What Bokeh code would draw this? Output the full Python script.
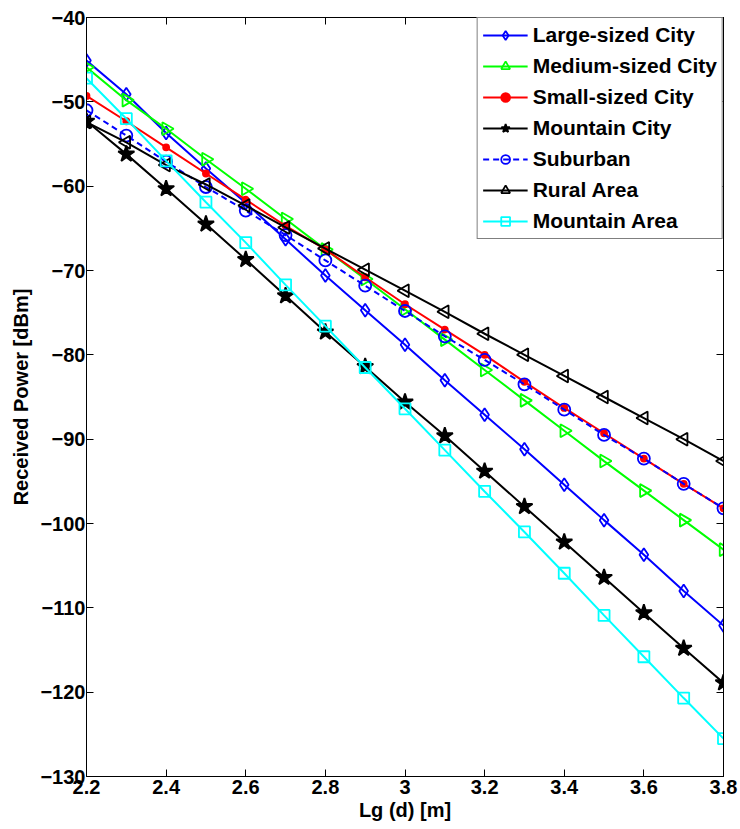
import numpy as np
from bokeh.plotting import figure
from bokeh.models import (Range1d, FixedTicker, LinearAxis, Legend, LegendItem,
                          CustomLabelingPolicy)
from bokeh.embed import file_html
from bokeh.resources import INLINE

x = [2.2, 2.3, 2.4, 2.5, 2.6, 2.7, 2.8, 2.9, 3.0, 3.1, 3.2, 3.3, 3.4, 3.5, 3.6, 3.7, 3.8]

large_city = [-45.1, -49.1, -53.7, -57.9, -62.0, -66.3, -70.6, -74.7, -78.8, -83.0,
              -87.1, -91.2, -95.4, -99.6, -103.7, -108.0, -112.1]
medium_city = [-45.9, -49.8, -53.2, -56.8, -60.3, -63.9, -67.5, -71.0, -74.6, -78.2,
               -81.8, -85.4, -89.0, -92.6, -96.1, -99.6, -103.1]
small_city = [-49.3, -52.3, -55.4, -58.5, -61.6, -64.7, -67.5, -70.8, -74.0, -77.0,
              -80.0, -83.2, -86.3, -89.3, -92.3, -95.3, -98.2]
mountain_city = [-52.3, -56.2, -60.3, -64.5, -68.7, -73.0, -77.3, -81.4, -85.6, -89.6,
                 -93.8, -98.0, -102.2, -106.4, -110.6, -114.8, -118.9]
suburban = [-51.0, -54.0, -57.1, -60.1, -62.9, -65.8, -68.8, -71.8, -74.8, -77.8,
            -80.6, -83.5, -86.5, -89.5, -92.3, -95.3, -98.2]
rural = [-52.4, -54.8, -57.5, -59.8, -62.3, -64.9, -67.4, -69.9, -72.4, -74.9,
         -77.5, -80.0, -82.5, -85.0, -87.5, -90.0, -92.6]
mountain_area = [-47.2, -52.0, -57.0, -61.9, -66.7, -71.7, -76.6, -81.5, -86.4, -91.3,
                 -96.2, -101.0, -105.9, -110.9, -115.8, -120.7, -125.5]

x_ticks = [2.2, 2.4, 2.6, 2.8, 3.0, 3.2, 3.4, 3.6, 3.8]
x_tick_labels = ["2.2", "2.4", "2.6", "2.8", "3", "3.2", "3.4", "3.6", "3.8"]
y_ticks = [-130, -120, -110, -100, -90, -80, -70, -60, -50, -40]
y_tick_labels = ["\u2212130", "\u2212120", "\u2212110", "\u2212100", "\u221290",
                 "\u221280", "\u221270", "\u221260", "\u221250", "\u221240"]

FONT = "Liberation Sans"

p = figure(width=738, height=828, output_backend="svg", toolbar_location=None,
           x_range=Range1d(2.2, 3.8), y_range=Range1d(-130, -40),
           min_border_left=86, min_border_right=15, min_border_top=17, min_border_bottom=52)
p.xgrid.visible = False
p.ygrid.visible = False
p.outline_line_color = "black"
p.outline_line_width = 1
p.background_fill_color = "white"

for ax in p.xaxis:
    ax.ticker = FixedTicker(ticks=x_ticks)
    ax.major_label_overrides = {t: l for t, l in zip(x_ticks, x_tick_labels)}
    ax.axis_label = "Lg (d) [m]"
for ax in p.yaxis:
    ax.ticker = FixedTicker(ticks=y_ticks)
    ax.major_label_overrides = {t: l for t, l in zip(y_ticks, y_tick_labels)}
    ax.axis_label = "Received Power [dBm]"
for ax in p.xaxis + p.yaxis:
    ax.major_tick_in = 7
    ax.major_tick_out = 0
    ax.minor_tick_in = 0
    ax.minor_tick_out = 0
    ax.axis_line_color = "black"
    ax.major_label_text_font = FONT
    ax.major_label_text_font_size = "20px"
    ax.major_label_text_font_style = "bold"
    ax.major_label_text_color = "black"
    ax.axis_label_text_font = FONT
    ax.axis_label_text_font_size = "20px"
    ax.axis_label_text_font_style = "bold"
    ax.axis_label_text_color = "black"
p.xaxis.major_label_standoff = 3
p.xaxis.axis_label_standoff = 2
p.yaxis.major_label_standoff = 1
p.yaxis.axis_label_standoff = 5

hide_labels = "for (const i of indices) indices.unset(i)\nreturn indices"
top_ax = LinearAxis(ticker=FixedTicker(ticks=x_ticks), major_tick_in=7, major_tick_out=0,
                    minor_tick_in=0, minor_tick_out=0, major_label_text_font_size="0px",
                    major_label_policy=CustomLabelingPolicy(code=hide_labels),
                    axis_line_color="black")
right_ax = LinearAxis(ticker=FixedTicker(ticks=y_ticks), major_tick_in=7, major_tick_out=0,
                      minor_tick_in=0, minor_tick_out=0, major_label_text_font_size="0px",
                      major_label_policy=CustomLabelingPolicy(code=hide_labels),
                      axis_line_color="black")
p.add_layout(top_ax, "above")
p.add_layout(right_ax, "right")

LW = 2
items = []

def series(label, y, color, marker, size, fill=None, dash="solid", angle=0.0):
    r_line = p.line(x, y, line_color=color, line_width=LW, line_dash=dash)
    r_pts = p.scatter(x, y, marker=marker, size=size, line_color=color, line_width=1.8,
                      fill_color=fill, angle=angle)
    items.append(LegendItem(label=label, renderers=[r_line, r_pts]))

series("Large-sized City", large_city, "#0000ff", "diamond", 13)
series("Medium-sized City", medium_city, "#00ff00", "triangle", 13, angle=-np.pi / 2)
series("Small-sized City", small_city, "#ff0000", "circle", 6, fill="#ff0000")
series("Mountain City", mountain_city, "#000000", "star", 17, fill="#000000")
series("Suburban", suburban, "#0000ff", "circle", 12, dash="6 4")
series("Rural Area", rural, "#000000", "triangle", 13, angle=np.pi / 2)
series("Mountain Area", mountain_area, "#00ffff", "square", 11)

legend = Legend(items=items, location="top_right", margin=0,
                border_line_color="black", border_line_width=1,
                background_fill_color="white", background_fill_alpha=1,
                label_text_font=FONT, label_text_font_size="21px",
                label_text_font_style="bold", label_text_color="black",
                glyph_width=45, glyph_height=22, label_height=22,
                spacing=7, padding=5, label_standoff=5)
p.add_layout(legend, "center")

open("out.html", "w").write(file_html(p, INLINE))
